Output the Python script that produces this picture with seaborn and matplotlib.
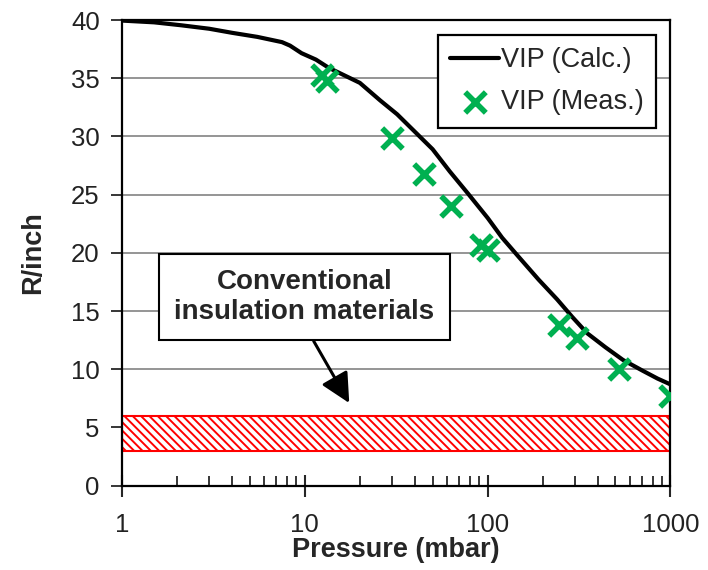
import numpy as np
import pandas as pd
import matplotlib
matplotlib.use("Agg")
import matplotlib.pyplot as plt
import seaborn as sns
from matplotlib.ticker import LogLocator, NullFormatter, FixedLocator

# ---- data ----
calc_pressure = [1, 1.5, 2.1, 3.0, 4.0, 5.5, 7.5, 8.3, 9.6, 11.5, 13.5, 20, 25.8, 32, 40,
                 50, 62, 78, 100, 120, 147, 190, 240, 290, 350, 440, 550, 700, 850, 1000]
calc_r = [39.95, 39.8, 39.55, 39.25, 38.9, 38.55, 38.1, 37.8, 37.15, 36.6, 35.9, 34.6, 33.1,
          31.9, 30.4, 28.9, 27.0, 25.1, 23.0, 21.3, 19.7, 17.7, 16.0, 14.5, 13.1, 11.9,
          10.8, 9.9, 9.2, 8.7]

meas_pressure = [12.4, 13.3, 29.9, 44.9, 62.8, 92, 100, 247, 310, 524, 1000]
meas_r = [35.3, 34.8, 29.9, 26.75, 24.05, 20.7, 20.25, 13.8, 12.66, 10.03, 7.73]

band_low, band_high = 3, 6
x_ticks = [1, 10, 100, 1000]
x_tick_labels = ["1", "10", "100", "1000"]
y_ticks = [0, 5, 10, 15, 20, 25, 30, 35, 40]

calc_df = pd.DataFrame({"Pressure": calc_pressure, "R": calc_r})
meas_df = pd.DataFrame({"Pressure": meas_pressure, "R": meas_r})

sns.set_theme(style="white")
plt.rcParams["font.family"] = ["Liberation Sans", "DejaVu Sans"]
plt.rcParams["hatch.color"] = "red"
plt.rcParams["hatch.linewidth"] = 1.4

fig = plt.figure(figsize=(7.08, 5.70), dpi=100)
ax = fig.add_axes([0.1723, 0.1479, 0.7747, 0.817])

# grid lines
for yv in y_ticks[1:-1]:
    ax.axhline(yv, color="#8c8c8c", lw=1.3, zorder=0)

# hatched band
ax.axhspan(band_low, band_high, facecolor="white", edgecolor="red", hatch="\\\\\\\\",
           lw=1.5, zorder=1)

sns.lineplot(data=calc_df, x="Pressure", y="R", ax=ax, color="black", lw=3,
             label="VIP (Calc.)", zorder=3)
sns.scatterplot(data=meas_df, x="Pressure", y="R", ax=ax, marker="x", color="#00B050",
                s=220, linewidth=4, label="VIP (Meas.)", zorder=4)

ax.set_xscale("log")
ax.set_xlim(1, 1000)
ax.set_ylim(0, 40)
ax.xaxis.set_major_locator(FixedLocator(x_ticks))
ax.set_xticklabels(x_tick_labels)
ax.xaxis.set_minor_locator(LogLocator(base=10, subs=np.arange(2, 10)))
ax.xaxis.set_minor_formatter(NullFormatter())
ax.set_yticks(y_ticks)

ax.tick_params(axis="x", which="major", direction="inout", length=16, width=1.5,
               labelsize=18.5, pad=12, bottom=True)
ax.tick_params(axis="x", which="minor", direction="in", length=7, width=1.3, bottom=True)
ax.tick_params(axis="y", which="major", direction="out", length=8, width=1.3,
               labelsize=18.5, pad=8, left=True)
for lab in ax.get_xticklabels() + ax.get_yticklabels():
    lab.set_color("#222222")

for sp in ["left", "bottom", "right", "top"]:
    ax.spines[sp].set_visible(True)
    ax.spines[sp].set_color("black")
    ax.spines[sp].set_linewidth(1.6)

ax.set_xlabel("Pressure (mbar)", fontsize=19.5, fontweight="bold", labelpad=0)
ax.set_ylabel("R/inch", fontsize=19.5, fontweight="bold", labelpad=18)

leg = ax.legend(loc="upper right", bbox_to_anchor=(0.9736, 0.9678), borderaxespad=0,
                fontsize=19.5, frameon=True, fancybox=False, edgecolor="black",
                handlelength=1.8, handletextpad=0.07, labelspacing=0.6,
                borderpad=0.45)
leg.get_frame().set_linewidth(1.6)
leg.get_frame().set_alpha(1)

ax.annotate("Conventional\ninsulation materials", xy=(17.5, 7.1), xytext=(9.96, 16.2),
            ha="center", va="center", fontsize=20, fontweight="bold",
            linespacing=1.2,
            bbox=dict(boxstyle="square,pad=0.55", fc="white", ec="black", lw=1.5),
            arrowprops=dict(arrowstyle="-|>,head_length=0.9,head_width=0.45",
                            color="black", lw=2.2, shrinkA=0, shrinkB=0,
                            relpos=(0.5, 0.0)),
            zorder=5)

fig.savefig("out.png", dpi=100)
